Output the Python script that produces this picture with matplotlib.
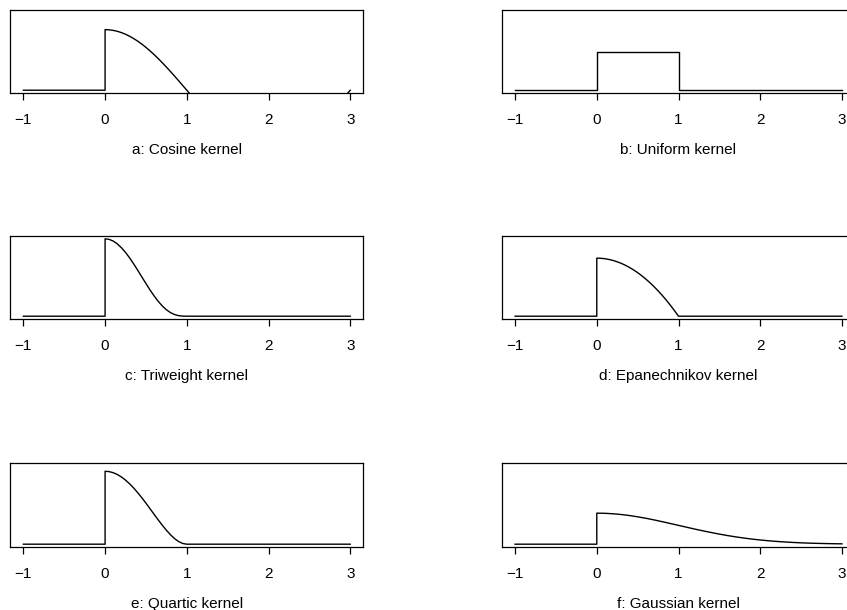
#!/usr/bin/env python3

import matplotlib
matplotlib.use("Agg")
import matplotlib.pyplot as plt

# sample positions on the support [0, 1]
x_unit = [0.0, 0.05, 0.1, 0.15, 0.2, 0.25, 0.3, 0.35, 0.4, 0.45, 0.5,
          0.55, 0.6, 0.65, 0.7, 0.75, 0.8, 0.85, 0.9, 0.95, 1.0]

# cosine kernel is not cut at 1: it dips below the box and comes back at 3
cosine_x = x_unit + [1.05, 1.5, 2.0, 2.5, 2.95, 3.0]
cosine_y = [1.571, 1.566, 1.551, 1.527, 1.494, 1.451, 1.400, 1.339, 1.271, 1.194, 1.111,
            1.020, 0.923, 0.821, 0.713, 0.601, 0.485, 0.367, 0.246, 0.123, 0.0,
            -0.123, -1.111, -1.571, -1.111, -0.123, 0.0]

uniform_x = [0.0, 1.0, 1.0, 3.0]
uniform_y = [1.0, 1.0, 0.0, 0.0]

triweight_x = x_unit + [3.0]
triweight_y = [2.000, 1.985, 1.941, 1.868, 1.769, 1.648, 1.507, 1.351, 1.185, 1.014, 0.844,
               0.679, 0.524, 0.385, 0.265, 0.167, 0.093, 0.043, 0.014, 0.002, 0.0, 0.0]

epan_x = x_unit + [3.0]
epan_y = [1.500, 1.496, 1.485, 1.466, 1.440, 1.406, 1.365, 1.316, 1.260, 1.196, 1.125,
          1.046, 0.960, 0.866, 0.765, 0.656, 0.540, 0.416, 0.285, 0.146, 0.0, 0.0]

quartic_x = x_unit + [3.0]
quartic_y = [1.875, 1.866, 1.838, 1.792, 1.728, 1.648, 1.553, 1.444, 1.323, 1.193, 1.055,
             0.912, 0.768, 0.625, 0.488, 0.359, 0.243, 0.144, 0.068, 0.018, 0.0, 0.0]

gauss_x = [0.0, 0.1, 0.2, 0.3, 0.4, 0.5, 0.6, 0.7, 0.8, 0.9, 1.0,
           1.1, 1.2, 1.3, 1.4, 1.5, 1.6, 1.7, 1.8, 1.9, 2.0,
           2.1, 2.2, 2.3, 2.4, 2.5, 2.6, 2.7, 2.8, 2.9, 3.0]
gauss_y = [0.798, 0.794, 0.782, 0.763, 0.737, 0.704, 0.667, 0.625, 0.579, 0.532, 0.484,
           0.436, 0.388, 0.343, 0.300, 0.259, 0.222, 0.188, 0.158, 0.131, 0.108,
           0.088, 0.071, 0.057, 0.045, 0.035, 0.027, 0.021, 0.016, 0.012, 0.009]

titles = ["a: Cosine kernel", "b: Uniform kernel", "c: Triweight kernel",
          "d: Epanechnikov kernel", "e: Quartic kernel", "f: Gaussian kernel"]
curves = [(cosine_x, cosine_y), (uniform_x, uniform_y), (triweight_x, triweight_y),
          (epan_x, epan_y), (quartic_x, quartic_y), (gauss_x, gauss_y)]
xticks = [-1, 0, 1, 2, 3]

plt.rcParams["font.family"] = ["Liberation Sans", "DejaVu Sans"]

W, H = 847, 610
fig = plt.figure(figsize=(W / 100, H / 100), dpi=100)

col_left = [10.3, 502.0]
box_w = 353.0
row_top = [10.0, 235.7, 463.3]
row_bot = [93.3, 319.3, 547.3]

for k, (title, (xs, ys)) in enumerate(zip(titles, curves)):
    r, c = k // 2, k % 2
    h = row_bot[r] - row_top[r]
    ax = fig.add_axes([col_left[c] / W, 1 - row_bot[r] / H, box_w / W, h / H])
    # flat part left of zero, then jump up at zero
    px = [-1.0, 0.0] + list(xs)
    py = [0.0, 0.0] + list(ys)
    ax.plot(px, py, color="black", lw=1.0)
    ax.set_xlim(-1.16, 3.16)
    ax.set_ylim(-0.08, 2.08)
    ax.set_xticks(xticks)
    ax.set_yticks([])
    ax.tick_params(axis="x", direction="out", length=5, width=0.9, pad=9.5,
                   labelsize=11)
    for s in ax.spines.values():
        s.set_linewidth(0.9)
    ax.text(0.5, -56.5 / h, title, transform=ax.transAxes, ha="center",
            va="center", fontsize=11)

fig.savefig("out.png", dpi=100)
